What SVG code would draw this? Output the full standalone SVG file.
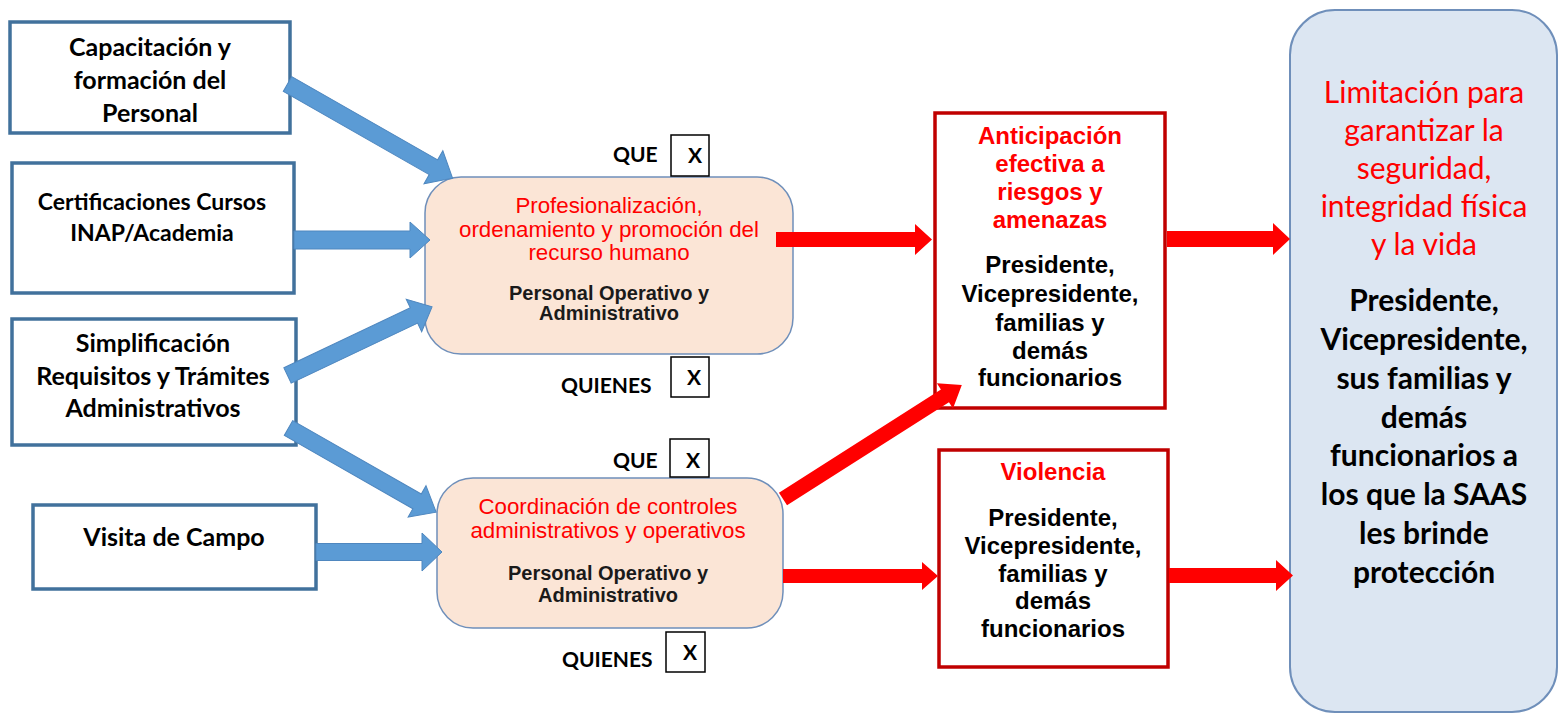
<svg xmlns="http://www.w3.org/2000/svg" width="1559" height="715" viewBox="0 0 1559 715">
<style>
.src{fill:#fff;stroke:#41719c;stroke-width:3.5}
.srct{font-family:Lato,"Open Sans",sans-serif;font-weight:bold;font-size:25px;fill:#000;text-anchor:middle}
.mid{fill:#fbe5d6;stroke:#6f8fba;stroke-width:1.5}
.midr{font-family:"Liberation Sans",Arial,sans-serif;font-size:22.3px;fill:#ff0000;text-anchor:middle}
.midb{font-family:"Liberation Sans",Arial,sans-serif;font-weight:bold;font-size:20px;fill:#1a1a1a;text-anchor:middle}
.lbl{font-family:Lato,"Open Sans",sans-serif;font-weight:bold;font-size:21px;fill:#000}
.xb{fill:#fff;stroke:#000;stroke-width:1.5}
.xt{font-family:Lato,"Open Sans",sans-serif;font-weight:bold;font-size:21px;fill:#000;text-anchor:middle}
.eff{fill:#fff;stroke:#c00000;stroke-width:3.5}
.effr{font-family:"Liberation Sans",Arial,sans-serif;font-weight:bold;font-size:24px;fill:#ff0000;text-anchor:middle}
.effb{font-family:"Liberation Sans",Arial,sans-serif;font-weight:bold;font-size:24px;fill:#000;text-anchor:middle}
.fin{fill:#dce6f2;stroke:#6f8fba;stroke-width:2}
.finr{font-family:Lato,"Open Sans",sans-serif;font-size:30px;fill:#ff0000;text-anchor:middle}
.finb{font-family:Lato,"Open Sans",sans-serif;font-weight:bold;font-size:30px;fill:#000;text-anchor:middle}
.ba{fill:#5b9bd5;stroke:#4f87bf;stroke-width:1}
.ra{fill:#ff0000}
</style>
<rect width="1559" height="715" fill="#fff"/>

<g id="n-capacitacion">
<rect class="src" x="10" y="22" width="280" height="111"/>
<text class="srct" x="150" y="56">Capacitación y</text>
<text class="srct" x="150" y="89">formación del</text>
<text class="srct" x="150" y="122">Personal</text>
</g>
<g id="n-certificaciones">
<rect class="src" x="12" y="163" width="282" height="130"/>
<text class="srct" x="152" y="210" style="font-size:23px">Certificaciones Cursos</text>
<text class="srct" x="152" y="241" style="font-size:23px">INAP/Academia</text>
</g>
<g id="n-simplificacion">
<rect class="src" x="12" y="319" width="284" height="126"/>
<text class="srct" x="153" y="352">Simplificación</text>
<text class="srct" x="153" y="385">Requisitos y Trámites</text>
<text class="srct" x="153" y="417">Administrativos</text>
</g>
<g id="n-visita">
<rect class="src" x="33" y="505" width="283" height="84"/>
<text class="srct" x="174" y="546">Visita de Campo</text>
</g>

<g id="n-profesionalizacion">
<rect class="mid" x="425" y="177" width="368" height="177" rx="36"/>
<text class="midr" x="609" y="213">Profesionalización,</text>
<text class="midr" x="609" y="237">ordenamiento y promoción del</text>
<text class="midr" x="609" y="260">recurso humano</text>
<text class="midb" x="609" y="300">Personal Operativo y</text>
<text class="midb" x="609" y="320">Administrativo</text>
</g>
<g id="n-que1">
<text class="lbl" x="613" y="162">QUE</text>
<rect class="xb" x="671" y="135" width="38" height="41"/>
<text class="xt" x="695" y="163">X</text>
</g>
<g id="n-quienes1">
<text class="lbl" x="561" y="393">QUIENES</text>
<rect class="xb" x="671" y="357" width="38" height="40"/>
<text class="xt" x="694" y="385">X</text>
</g>

<g id="n-coordinacion">
<rect class="mid" x="437" y="478" width="346" height="150" rx="36"/>
<text class="midr" x="608" y="514">Coordinación de controles</text>
<text class="midr" x="608" y="538">administrativos y operativos</text>
<text class="midb" x="608" y="580">Personal Operativo y</text>
<text class="midb" x="608" y="602">Administrativo</text>
</g>
<g id="n-que2">
<text class="lbl" x="613" y="468">QUE</text>
<rect class="xb" x="670" y="439" width="39" height="38"/>
<text class="xt" x="693" y="468">X</text>
</g>
<g id="n-quienes2">
<text class="lbl" x="562" y="667">QUIENES</text>
<rect class="xb" x="666" y="632" width="39" height="40"/>
<text class="xt" x="690" y="660">X</text>
</g>

<g id="n-anticipacion">
<rect class="eff" x="935" y="113" width="230" height="295"/>
<text class="effr" x="1050" y="144">Anticipación</text>
<text class="effr" x="1050" y="172">efectiva a</text>
<text class="effr" x="1050" y="200">riesgos y</text>
<text class="effr" x="1050" y="228">amenazas</text>
<text class="effb" x="1050" y="273">Presidente,</text>
<text class="effb" x="1050" y="302">Vicepresidente,</text>
<text class="effb" x="1050" y="331">familias y</text>
<text class="effb" x="1050" y="359">demás</text>
<text class="effb" x="1050" y="386">funcionarios</text>
</g>
<g id="n-violencia">
<rect class="eff" x="939" y="450" width="229" height="217"/>
<text class="effr" x="1053" y="480">Violencia</text>
<text class="effb" x="1053" y="526">Presidente,</text>
<text class="effb" x="1053" y="554">Vicepresidente,</text>
<text class="effb" x="1053" y="582">familias y</text>
<text class="effb" x="1053" y="609">demás</text>
<text class="effb" x="1053" y="637">funcionarios</text>
</g>

<g id="n-limitacion">
<rect class="fin" x="1290" y="10" width="267" height="702" rx="45"/>
<text class="finr" x="1424" y="103">Limitación para</text>
<text class="finr" x="1424" y="141">garantizar la</text>
<text class="finr" x="1424" y="179">seguridad,</text>
<text class="finr" x="1424" y="217">integridad física</text>
<text class="finr" x="1424" y="255">y la vida</text>
<text class="finb" x="1424" y="311">Presidente,</text>
<text class="finb" x="1424" y="350">Vicepresidente,</text>
<text class="finb" x="1424" y="389">sus familias y</text>
<text class="finb" x="1424" y="428">demás</text>
<text class="finb" x="1424" y="466">funcionarios a</text>
<text class="finb" x="1424" y="505">los que la SAAS</text>
<text class="finb" x="1424" y="544">les brinde</text>
<text class="finb" x="1424" y="583">protección</text>
</g>

<g id="connectors">
<polygon class="ba" transform="translate(287.5,84) rotate(29.7)" points="0,-8.5 168,-8.5 168,-19 190,0 168,19 168,8.5 0,8.5"/>
<polygon class="ba" points="294,231 410,231 410,222 430,240 410,258 410,249 294,249"/>
<polygon class="ba" transform="translate(287.5,375.5) rotate(-25.4)" points="0,-8.5 140,-8.5 140,-18 160,0 140,18 140,8.5 0,8.5"/>
<polygon class="ba" transform="translate(288.5,428) rotate(29.7)" points="0,-8.5 148,-8.5 148,-18 170,0 148,18 148,8.5 0,8.5"/>
<polygon class="ba" points="316,543.5 422,543.5 422,533 442,552 422,571 422,560.5 316,560.5"/>
<polygon class="ra" points="776,232 915,232 915,224 932,239.5 915,255 915,247 776,247"/>
<polygon class="ra" transform="translate(783,499) rotate(-32.5)" points="0,-7.5 192,-7.5 192,-15 212,0 192,15 192,7.5 0,7.5"/>
<polygon class="ra" points="783,569 922,569 922,562 938,576 922,590 922,583 783,583"/>
<polygon class="ra" points="1167,231 1273,231 1273,223 1290,239 1273,255 1273,247 1167,247"/>
<polygon class="ra" points="1169,568 1276,568 1276,560 1293,575.5 1276,591 1276,583 1169,583"/>
</g>
</svg>
